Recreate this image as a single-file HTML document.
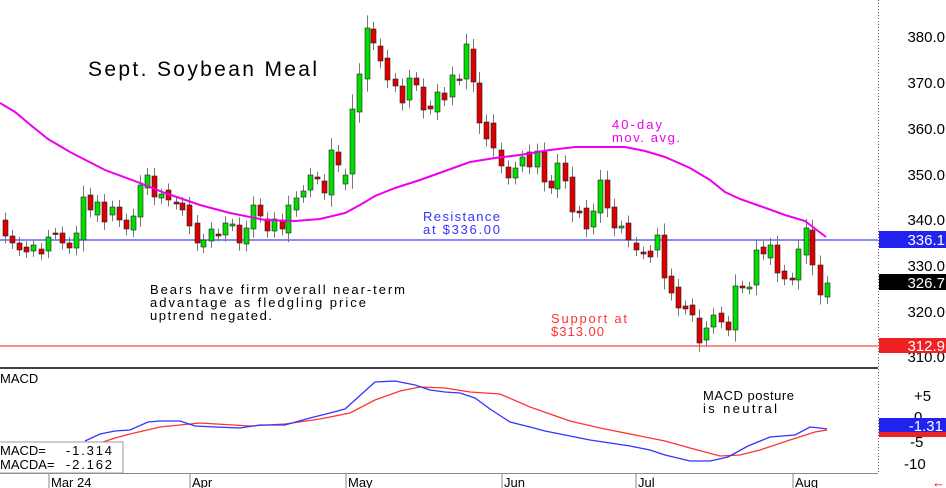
<!DOCTYPE html>
<html><head><meta charset="utf-8"><style>
html,body{margin:0;padding:0;background:#fff;}
svg{display:block;font-family:"Liberation Sans",sans-serif;}
</style></head><body>
<svg id="s" width="946" height="488" viewBox="0 0 946 488" xmlns="http://www.w3.org/2000/svg">
<rect width="946" height="488" fill="#fff"/>
<line x1="0" y1="240" x2="878" y2="240" stroke="#4444ff" stroke-width="1.2"/>
<line x1="0" y1="346" x2="878" y2="346" stroke="#ff6666" stroke-width="1.5"/>
<g id="c"></g>
<polyline fill="none" stroke="#ee00ee" stroke-width="2" points="0,103 15,112 33,127 48,139 70,152 105,170 140,183 165,193 200,205 230,213 265,220 295,221 320,219 345,213 360,205 375,196 395,188 420,180 445,171 470,162 495,158 520,155 550,150 575,147 600,147 625,147 645,151 665,157 690,168 710,180 725,192 740,199 760,206 785,215 805,221 826,237"/>
<line x1="0" y1="368" x2="878" y2="368" stroke="#000" stroke-width="1.5"/>
<line x1="878.5" y1="0" x2="878.5" y2="474" stroke="#666" stroke-width="1" stroke-dasharray="1,2"/>
<line x1="0" y1="473.5" x2="878" y2="473.5" stroke="#888" stroke-width="1"/>
<text x="88" y="76" font-size="21" textLength="229" fill="#000">Sept. Soybean Meal</text>
<text x="612" y="129" font-size="13" fill="#ee00ee" textLength="50">40-day</text>
<text x="612" y="142" font-size="13" fill="#ee00ee" textLength="68">mov. avg.</text>
<text x="423" y="221" font-size="13" fill="#3333ff" textLength="77">Resistance</text>
<text x="423" y="234" font-size="13" fill="#3333ff" textLength="77">at $336.00</text>
<text x="551" y="323" font-size="13" fill="#ff3333" textLength="76">Support at</text>
<text x="551" y="336" font-size="13" fill="#ff3333" textLength="53">$313.00</text>
<text x="150" y="294" font-size="13" textLength="255">Bears have firm overall near-term</text>
<text x="150" y="307" font-size="13" textLength="216">advantage as fledgling price</text>
<text x="150" y="320" font-size="13" textLength="122">uptrend negated.</text>
<text x="0" y="383" font-size="13">MACD</text>
<text x="703" y="400" font-size="13" textLength="91">MACD posture</text>
<text x="703" y="413" font-size="13" textLength="74">is neutral</text>
<polyline fill="none" stroke="#ff3333" stroke-width="1.3" points="100,443 115,438 130,434 160,427 200,423 250,426 285,424 320,419 350,413 375,400 400,391 420,387 445,388 470,392 500,394 530,407 550,414 570,421 600,428 640,436 665,441 690,448 720,456 740,455 760,450 790,440 815,432 827,430"/>
<polyline fill="none" stroke="#3333ff" stroke-width="1.3" points="85,441 100,434 115,431 130,430 148,422 160,421 180,421 195,426 215,427 240,428 260,425 285,425 310,418 330,413 345,409 355,400 375,382 395,381 405,383 415,385 430,390 445,392 460,393 475,398 490,409 510,422 530,427 545,431 560,434 575,437 590,440 610,443 630,446 650,450 665,455 690,461 710,461 728,457 748,446 770,437 795,435 810,427 820,428 827,429"/>
<rect x="-1" y="442" width="124" height="31" fill="#fff" stroke="#999"/>
<text x="0" y="455" font-size="13">MACD=</text><text x="66" y="455" font-size="13" textLength="46">-1.314</text>
<text x="0" y="469" font-size="13">MACDA=</text><text x="66" y="469" font-size="13" textLength="46">-2.162</text>
<g font-size="13" fill="#000">
<line x1="49" y1="474" x2="49" y2="488" stroke="#888"/><text x="51" y="487">Mar 24</text>
<line x1="190" y1="474" x2="190" y2="488" stroke="#888"/><text x="192" y="487">Apr</text>
<line x1="346" y1="474" x2="346" y2="488" stroke="#888"/><text x="348" y="487">May</text>
<line x1="502" y1="474" x2="502" y2="488" stroke="#888"/><text x="504" y="487">Jun</text>
<line x1="636" y1="474" x2="636" y2="488" stroke="#888"/><text x="638" y="487">Jul</text>
<line x1="793" y1="474" x2="793" y2="488" stroke="#888"/><text x="795" y="487">Aug</text>
</g>
<text x="932" y="487" font-size="13" fill="#e00">&#8592;</text>
<g font-size="15" fill="#000" text-anchor="end">
<text x="945" y="42">380.0</text><text x="945" y="88">370.0</text><text x="945" y="134">360.0</text>
<text x="945" y="180">350.0</text><text x="945" y="225">340.0</text><text x="945" y="271">330.0</text>
<text x="945" y="317">320.0</text><text x="945" y="362">310.0</text>
<text x="914" y="401" text-anchor="start">+5</text><text x="914" y="422" text-anchor="start">0</text>
<text x="910" y="447" text-anchor="start">-5</text><text x="904" y="469" text-anchor="start">-10</text>
</g>
<rect x="879" y="231" width="67" height="17" fill="#2222ee"/><text x="945" y="245" font-size="15" fill="#fff" text-anchor="end">336.1</text>
<rect x="879" y="274" width="67" height="16" fill="#000"/><text x="945" y="288" font-size="15" fill="#fff" text-anchor="end">326.7</text>
<rect x="879" y="338" width="67" height="15" fill="#ee2222"/><text x="945" y="351" font-size="15" fill="#fff" text-anchor="end">312.9</text>
<rect x="879" y="432" width="67" height="5" fill="#ee2222"/>
<rect x="879" y="418" width="67" height="14" fill="#2222ee"/><text x="943" y="431" font-size="15" fill="#fff" text-anchor="end">-1.31</text>
</svg>
<script>
var d=[[5,220,236,'r'],[12,236,243,'r'],[19,243,250,'r'],[26,247,252,'r'],[33,245,251,'g'],[41,249,254,'r'],[48,237,251,'g'],[55,233,234,'r'],[62,233,243,'r'],[69,243,248,'r'],[76,233,248,'g'],[83,197,240,'g'],[90,195,210,'r'],[97,202,215,'g'],[104,202,222,'r'],[112,207,215,'g'],[119,207,220,'r'],[126,220,229,'r'],[133,216,230,'g'],[140,185,217,'g'],[147,175,188,'g'],[154,176,197,'r'],[161,194,198,'g'],[168,190,200,'r'],[176,202,204,'r'],[182,203,210,'r'],[189,205,226,'r'],[197,223,243,'r'],[203,240,247,'g'],[211,229,241,'g'],[218,234,236,'r'],[225,223,235,'g'],[232,224,226,'g'],[239,225,243,'r'],[246,228,244,'g'],[253,205,229,'g'],[260,205,216,'r'],[267,219,231,'r'],[274,219,231,'g'],[282,220,229,'r'],[288,205,233,'g'],[296,198,210,'g'],[303,191,197,'g'],[310,175,190,'g'],[317,177,179,'r'],[324,181,193,'r'],[331,150,195,'g'],[338,152,165,'r'],[345,175,184,'g'],[352,109,174,'g'],[359,74,112,'g'],[367,28,79,'g'],[373,29,43,'r'],[380,46,61,'r'],[387,58,80,'r'],[395,79,86,'r'],[402,86,103,'r'],[409,78,100,'g'],[416,78,85,'r'],[423,87,110,'r'],[430,106,109,'r'],[437,92,112,'g'],[444,93,100,'r'],[452,75,97,'g'],[459,79,80,'r'],[466,44,79,'g'],[473,49,82,'r'],[479,83,123,'r'],[486,122,139,'r'],[493,123,148,'r'],[501,150,166,'r'],[508,167,178,'r'],[515,168,178,'g'],[522,157,166,'g'],[529,152,167,'r'],[537,151,167,'g'],[544,152,182,'r'],[551,181,188,'r'],[557,163,189,'g'],[565,163,181,'r'],[572,177,212,'r'],[579,211,213,'r'],[586,208,229,'r'],[593,211,227,'g'],[600,180,213,'g'],[607,180,208,'r'],[614,207,228,'r'],[621,226,228,'g'],[628,223,240,'r'],[636,243,250,'r'],[643,252,254,'r'],[650,251,257,'r'],[657,235,250,'g'],[664,235,278,'r'],[671,276,293,'r'],[678,287,308,'r'],[685,306,309,'r'],[692,305,315,'r'],[699,318,343,'r'],[706,328,340,'g'],[713,315,327,'g'],[721,313,322,'r'],[728,322,330,'r'],[735,286,330,'g'],[742,286,288,'r'],[749,287,289,'g'],[756,250,285,'g'],[763,247,254,'r'],[770,245,258,'g'],[777,245,273,'r'],[784,271,279,'r'],[792,278,280,'r'],[798,249,280,'g'],[806,228,255,'g'],[812,230,265,'r'],[820,265,295,'r'],[827,283,297,'g']];
var g='';d.forEach(function(c){var x=c[0],t=c[1],b=c[2];var hi=t-5-(b-t)*0.15,lo=b+5+(b-t)*0.15;
g+='<line x1="'+(x+0.5)+'" y1="'+hi+'" x2="'+(x+0.5)+'" y2="'+lo+'" stroke="#777" stroke-width="1"/>';
var h=Math.max(b-t,1.5);g+='<rect x="'+(x-2)+'" y="'+t+'" width="5" height="'+h+'" fill="'+(c[3]=='g'?'#00dd00':'#dd0000')+'" stroke="#222" stroke-width="0.6"/>';});
document.getElementById('c').innerHTML=g;
</script>
</body></html>
